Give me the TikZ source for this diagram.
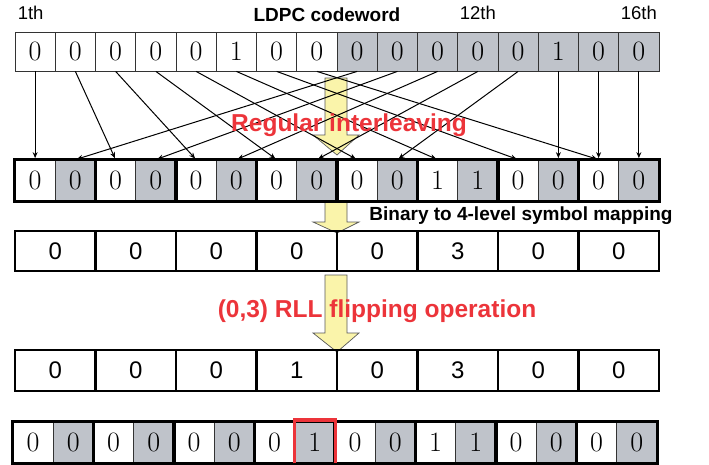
\documentclass[tikz,border=0pt]{standalone}
\usepackage{fontspec}
\setsansfont{Liberation Sans}
\usepackage{xcolor}
\usetikzlibrary{
  arrows.meta,
  positioning}

\definecolor{cellgray}{RGB}{191,195,202}
\definecolor{fatyellow}{RGB}{250,244,170}
\definecolor{notered}{RGB}{236,52,58}

\tikzset{
  bitcell/.style={draw=black!80, line width=0.8pt, minimum width=40.25pt, minimum height=39pt,
    inner sep=0pt, font=\fontsize{28}{30}\selectfont},
  symcell/.style={draw=black, line width=2.6pt, minimum width=80.5pt, minimum height=40pt,
    inner sep=0pt, font=\sffamily\fontsize{24}{26}\selectfont},
  thickframe/.style={draw=black, line width=2.6pt},
  fatarrow/.style={draw=black!65, line width=0.7pt, fill=fatyellow},
  mapline/.style={line width=1pt, -{Stealth[length=6pt,width=5pt]}, shorten >=1.5pt},
  redlabel/.style={text=notered, font=\sffamily\bfseries\fontsize{24.5}{26}\selectfont},
  boldlabel/.style={font=\sffamily\bfseries\fontsize{19}{21}\selectfont, inner sep=0pt},
  ordlabel/.style={font=\sffamily\fontsize{18.5}{20}\selectfont, inner sep=0pt},
  redbox/.style={draw=notered, line width=3.5pt}
}

\begin{document}
\begin{tikzpicture}[x=1pt, y=-1pt]
\useasboundingbox (0,0) rectangle (709,464);

%yellow arrows
\draw[fatarrow] (325,78) -- (347,78) -- (347,135) -- (359,135) -- (337,155)
  -- (313,135) -- (325,135) -- cycle;
\draw[fatarrow] (325,199) -- (347,199) -- (347,222) -- (359,222) -- (337,233)
  -- (313,222) -- (325,222) -- cycle;
\draw[fatarrow] (325,275) -- (347,275) -- (347,333) -- (359,333) -- (337,352)
  -- (313,333) -- (325,333) -- cycle;

%codeword
\foreach \v [count=\i] in {0,0,0,0,0,1,0,0,0,0,0,0,0,1,0,0}
{
  \ifnum\i>8 \def\fc{cellgray}\else\def\fc{white}\fi
  \node[bitcell, fill=\fc] (t\i) at ({15+(\i-0.5)*40.25}, 51.5) {\v};
}

\node[ordlabel, above right=12pt and 3pt of t1.north west] (first) {1th};
\node[boldlabel, anchor=base] (title) at (327,21.7) {LDPC codeword};
\node[ordlabel, above=12pt of t12] (twelfth) {12th};
\node[ordlabel, above=12pt of t16] (last) {16th};

%interleaved bits
\foreach \v [count=\i] in {0,0,0,0,0,0,0,0,0,0,1,1,0,0,0,0}
{
  \ifodd\i \def\fc{white}\else\def\fc{cellgray}\fi
  \node[bitcell, minimum height=41pt, fill=\fc] (b\i) at ({15+(\i-0.5)*40.25}, 180.5) {\v};
}

\foreach \s/\d in {1/1, 2/3, 3/5, 4/7, 5/9, 6/11, 7/13, 8/15,
                   9/2, 10/4, 11/6, 12/8, 13/10, 14/14, 15/15, 16/16}
  \draw[mapline] (t\s.south) -- (b\d.north);

\foreach \k in {1,...,8}
{
  \pgfmathtruncatemacro\n{2*\k-1}
  \pgfmathtruncatemacro\m{2*\k}
  \draw[thickframe] (b\n.north west) rectangle (b\m.south east);
}

\node[redlabel] (interleave) at (349,125) {Regular interleaving};

%4-level symbols
\foreach \v [count=\i] in {0,0,0,0,0,3,0,0}
  \node[symcell] (s\i) at ({15+(\i-0.5)*80.5}, 251) {\v};

\node[boldlabel] (mapping) at (521,216) {Binary to 4-level symbol mapping};

%after flipping
\foreach \v [count=\i] in {0,0,0,1,0,3,0,0}
  \node[symcell, minimum height=41pt] (f\i) at ({15+(\i-0.5)*80.5}, 370.5) {\v};

\node[redlabel] (flipping) at (377,311) {(0,3) RLL flipping operation};

%flipped bits
\foreach \v [count=\i] in {0,0,0,0,0,0,0,1,0,0,1,1,0,0,0,0}
{
  \ifodd\i \def\fc{white}\else\def\fc{cellgray}\fi
  \node[bitcell, minimum height=41pt, fill=\fc] (r\i) at ({13+(\i-0.5)*40.25}, 442.5) {\v};
}

\foreach \k in {1,...,8}
{
  \pgfmathtruncatemacro\n{2*\k-1}
  \pgfmathtruncatemacro\m{2*\k}
  \draw[thickframe] (r\n.north west) rectangle (r\m.south east);
}

\draw[redbox] (r8.south west) -- ([yshift=1.5pt]r8.north west) -- ([yshift=1.5pt]r8.north east) -- (r8.south east);

\end{tikzpicture}
\end{document}
